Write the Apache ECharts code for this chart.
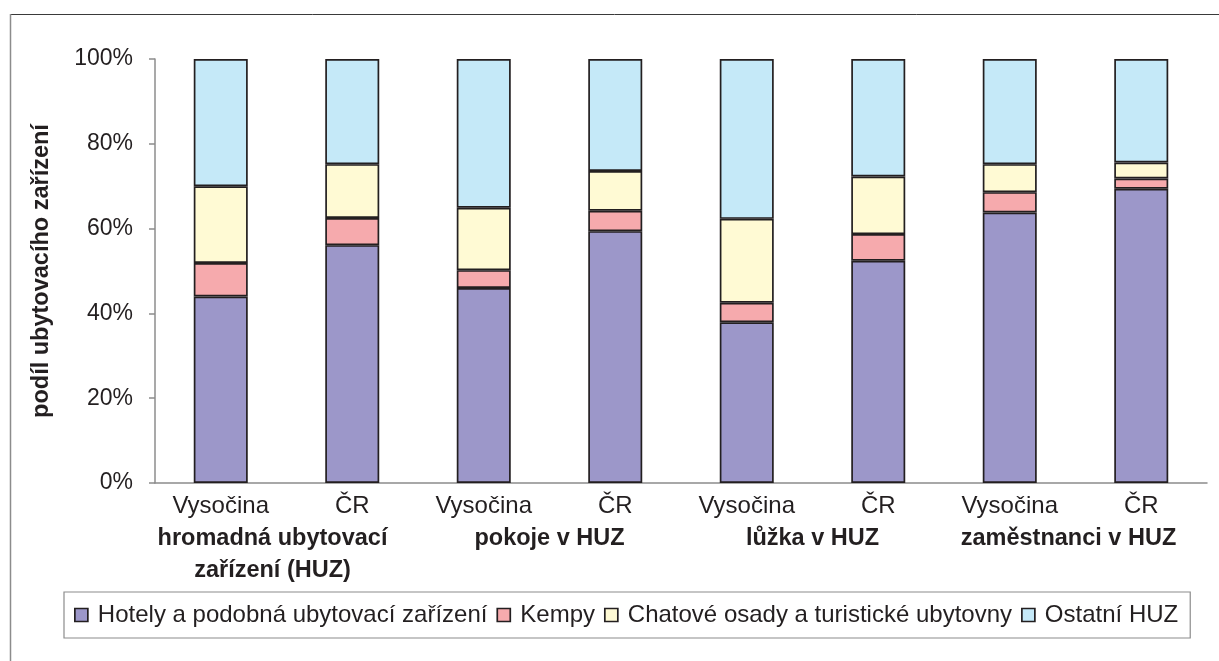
<!DOCTYPE html>
<html>
<head>
<meta charset="utf-8">
<script src="https://cdn.jsdelivr.net/npm/echarts@6/dist/echarts.min.js"></script>
<style>
  html, body { margin: 0; padding: 0; background: #fff; }
  #chart { width: 1219px; height: 661px; }
</style>
</head>
<body>
<div id="chart"></div>
<script>
// Podíl ubytovacích zařízení podle druhu – Vysočina vs. ČR
const regions = ['Vysočina', 'ČR', 'Vysočina', 'ČR', 'Vysočina', 'ČR', 'Vysočina', 'ČR'];
const groups = ['hromadná ubytovací\nzařízení (HUZ)', 'pokoje v HUZ', 'lůžka v HUZ', 'zaměstnanci v HUZ'];
const seriesNames = ['Hotely a podobná ubytovací zařízení', 'Kempy', 'Chatové osady a turistické ubytovny', 'Ostatní HUZ'];

const hotely   = [44.0, 56.1, 46.0, 59.4, 37.9, 52.4, 63.8, 69.4];
const kempy    = [7.9, 6.4, 4.2, 4.8, 4.6, 6.3, 4.8, 2.4];
const chatove  = [18.1, 12.7, 14.7, 9.4, 19.8, 13.6, 6.6, 3.8];
const ostatni  = [30.0, 24.8, 35.1, 26.4, 37.7, 27.7, 24.8, 24.4];

const yTicks = { min: 0, max: 100, interval: 20 };

const colors = ['#9c97c9', '#f6aaad', '#fffad4', '#c5e9f8'];
const ink = '#231f20';
const font = 'Liberation Sans, Arial, sans-serif';

const chart = echarts.init(document.getElementById('chart'), null, { renderer: 'canvas' });

function barSeries(name, data, color) {
  return {
    name: name,
    type: 'bar',
    stack: 'podil',
    data: data,
    barWidth: 54,
    itemStyle: { color: color, borderColor: ink, borderWidth: 1.7 },
    emphasis: { disabled: true }
  };
}

const option = {
  animation: false,
  textStyle: { fontFamily: font, color: ink },
  grid: { left: 155, right: 12, top: 59, bottom: 178, containLabel: false },
  graphic: [
    { type: 'line', shape: { x1: 10, y1: 14.5, x2: 1219, y2: 14.5 }, style: { stroke: '#3a3a3a', lineWidth: 1 } },
    { type: 'line', shape: { x1: 10.5, y1: 14, x2: 10.5, y2: 661 }, style: { stroke: '#8c8c8c', lineWidth: 1.5 } }
  ],
  legend: {
    left: 64,
    top: 592,
    data: seriesNames,
    icon: 'rect',
    itemWidth: 13,
    itemHeight: 13,
    itemGap: 9,
    padding: [11, 12, 11, 10],
    borderColor: '#8c8c8c',
    borderWidth: 1.2,
    textStyle: { fontFamily: font, fontSize: 24, color: ink, padding: [0, 0, 0, 5] },
    itemStyle: { borderColor: ink, borderWidth: 1.7 }
  },
  xAxis: [
    {
      type: 'category',
      data: regions,
      axisLine: { lineStyle: { color: '#8c8c8c', width: 1.5 } },
      axisTick: { show: false },
      axisLabel: { fontFamily: font, fontSize: 24, color: ink, margin: 11, interval: 0 }
    },
    {
      type: 'category',
      data: groups,
      position: 'bottom',
      axisLine: { show: false },
      axisTick: { show: false },
      axisLabel: {
        interval: 0,
        margin: 40,
        formatter: function (value, index) {
          const style = index === 0 ? 's0' : (index === 3 ? 's3' : 'b');
          return value.split('\n').map(function (l) { return '{' + style + '|' + l + '}'; }).join('\n');
        },
        rich: {
          b:  { fontFamily: font, fontSize: 23.5, fontWeight: 'bold', color: ink, lineHeight: 32 },
          s0: { fontFamily: font, fontSize: 23.5, fontWeight: 'bold', color: ink, lineHeight: 32, padding: [0, 28, 0, 0] },
          s3: { fontFamily: font, fontSize: 23.5, fontWeight: 'bold', color: ink, lineHeight: 32, padding: [0, 14, 0, 0] }
        }
      }
    }
  ],
  yAxis: {
    type: 'value',
    min: yTicks.min,
    max: yTicks.max,
    interval: yTicks.interval,
    name: 'podíl ubytovacího zařízení',
    nameLocation: 'middle',
    nameGap: 101,
    nameTextStyle: { fontFamily: font, fontSize: 23.5, fontWeight: 'bold', color: ink },
    axisLine: { show: true, lineStyle: { color: '#8c8c8c', width: 1.5 } },
    axisTick: { show: true, length: 6, lineStyle: { color: '#8c8c8c', width: 1.5 } },
    splitLine: { show: false },
    axisLabel: { fontFamily: font, fontSize: 23, color: ink, margin: 22, formatter: '{value}%' }
  },
  series: [
    barSeries(seriesNames[0], hotely, colors[0]),
    barSeries(seriesNames[1], kempy, colors[1]),
    barSeries(seriesNames[2], chatove, colors[2]),
    barSeries(seriesNames[3], ostatni, colors[3])
  ]
};

chart.setOption(option);
</script>
</body>
</html>
